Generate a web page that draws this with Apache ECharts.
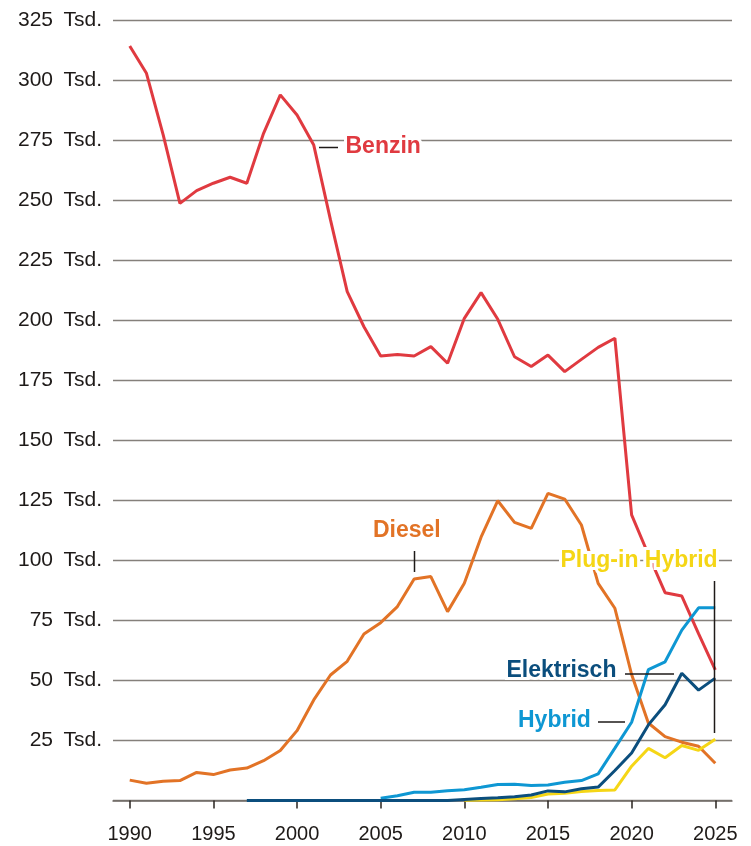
<!DOCTYPE html>
<html>
<head>
<meta charset="utf-8">
<script src="https://cdn.jsdelivr.net/npm/echarts@6/dist/echarts.min.js"></script>
<style>
html,body{margin:0;padding:0;background:#fff;}
#c{width:751px;height:846px;}
</style>
</head>
<body>
<div id="c"></div>
<script>
var years = [];
for (var y = 1990; y <= 2025; y++) years.push(y);
var xTickYears = [1990, 1995, 2000, 2005, 2010, 2015, 2020, 2025];
var yTicks = [25, 50, 75, 100, 125, 150, 175, 200, 225, 250, 275, 300, 325];

var benzin = [314.4, 303.0, 277.3, 248.8, 254.1, 257.2, 259.7, 257.2, 278.0, 294.0,
  285.6, 273.1, 241.9, 212.0, 197.4, 185.2, 185.8, 185.2, 189.1, 182.2,
  200.9, 211.6, 200.5, 184.9, 180.8, 185.6, 178.7, 183.8, 188.8, 192.6,
  119.0, 102.5, 86.6, 85.2, 69.5, 54.4];
var diesel = [8.5, 7.2, 8.0, 8.3, 11.7, 10.8, 12.7, 13.5, 16.6, 20.8,
  29.1, 41.9, 52.3, 58.0, 69.4, 74.1, 80.8, 92.3, 93.3, 78.7,
  90.5, 109.7, 124.9, 115.9, 113.4, 128.0, 125.6, 114.8, 90.5, 80.1,
  52.5, 32.3, 26.6, 24.3, 22.6, 15.5];
var hybrid = [null, null, null, null, null, null, null, null, null, null,
  null, null, null, null, null, 0.9, 2.0, 3.4, 3.4, 4.1,
  4.5, 5.5, 6.7, 6.8, 6.3, 6.5, 7.6, 8.3, 11.1, 21.8,
  32.6, 54.5, 57.8, 71.0, 80.3, 80.3];
var elektrisch = [null, null, null, null, null, null, null, 0, 0, 0,
  0, 0, 0, 0, 0, 0, 0, 0, 0, 0,
  0.4, 0.8, 1.1, 1.6, 2.3, 4.0, 3.6, 4.9, 5.6, 12.5,
  19.8, 31.5, 39.9, 53.0, 46.0, 51.0];
var plugin = [null, null, null, null, null, null, null, null, null, null,
  null, null, null, null, null, null, null, null, null, null,
  0.1, 0.2, 0.3, 0.7, 1.2, 2.7, 3.0, 3.7, 4.2, 4.4,
  14.3, 21.7, 17.8, 22.9, 20.9, 25.5];

function pairs(arr) {
  var out = [];
  for (var i = 0; i < years.length; i++) {
    if (arr[i] !== null) out.push([years[i], arr[i]]);
  }
  return out;
}

var COL = {
  benzin: '#e03a40',
  diesel: '#e27326',
  plugin: '#f5d616',
  hybrid: '#0e97d3',
  elektrisch: '#0b4e7d'
};
var FONT = '"Liberation Sans", Arial, Helvetica, sans-serif';

var chart = echarts.init(document.getElementById('c'), null, {renderer: 'canvas'});

function lineSeries(name, arr, color, z) {
  return {
    name: name, type: 'line', data: pairs(arr), showSymbol: false, symbol: 'none',
    lineStyle: {color: color, width: 3}, z: z, silent: true
  };
}

var option = {
  animation: false,
  backgroundColor: '#fff',
  grid: {left: 113, right: 19, top: 20.5, bottom: 45.5, containLabel: false},
  xAxis: {
    type: 'value', min: 1989, max: 2026,
    splitLine: {show: false},
    axisLine: {show: true, lineStyle: {color: '#6f6a66', width: 1.5}},
    axisTick: {show: true, customValues: xTickYears, length: 8, lineStyle: {color: '#2a2420', width: 1.5}},
    axisLabel: {customValues: xTickYears, color: '#1e1a18', fontSize: 20, fontFamily: FONT, margin: 24,
      formatter: function (v) { return String(v); }}
  },
  yAxis: {
    type: 'value', min: 0, max: 325, interval: 25,
    axisLine: {show: false},
    axisTick: {show: false},
    splitLine: {show: true, lineStyle: {color: '#85807b', width: 1.3}},
    axisLabel: {color: '#1e1a18', fontSize: 21, fontFamily: FONT, margin: 11,
      formatter: function (v) { return v === 0 ? '' : v + '\u2002Tsd.'; }}
  },
  series: [
    lineSeries('Benzin', benzin, COL.benzin, 2),
    lineSeries('Diesel', diesel, COL.diesel, 3),
    lineSeries('Plug-in Hybrid', plugin, COL.plugin, 4),
    lineSeries('Hybrid', hybrid, COL.hybrid, 5),
    lineSeries('Elektrisch', elektrisch, COL.elektrisch, 6)
  ]
};
chart.setOption(option);

function label(text, x, y, color, align) {
  var base = {
    type: 'text', x: x, y: y, z: 100,
    style: {text: text, font: 'bold 23px ' + FONT, textAlign: align || 'left', textVerticalAlign: 'middle'}
  };
  var halo = JSON.parse(JSON.stringify(base));
  halo.z = 99;
  halo.style.fill = '#fff';
  halo.style.stroke = '#fff';
  halo.style.lineWidth = 6;
  base.style.fill = color;
  return [halo, base];
}
function seg(x1, y1, x2, y2) {
  return {type: 'line', z: 98, shape: {x1: x1, y1: y1, x2: x2, y2: y2},
    style: {stroke: '#1e1a18', lineWidth: 1.5}};
}

var g = [];
g.push(seg(319, 147.5, 338, 147.5));
g = g.concat(label('Benzin', 345.5, 146.5, COL.benzin));
g.push(seg(414.5, 551, 414.5, 572));
g = g.concat(label('Diesel', 373, 530.5, COL.diesel));
g = g.concat(label('Plug-in Hybrid', 560.5, 560.5, COL.plugin));
g.push(seg(714.5, 581, 714.5, 733));
g = g.concat(label('Elektrisch', 506.5, 670.5, COL.elektrisch));
g.push(seg(625, 674, 674, 674));
g = g.concat(label('Hybrid', 518, 720.5, COL.hybrid));
g.push(seg(598, 722, 625, 722));

chart.setOption({graphic: {elements: g}});
</script>
</body>
</html>
